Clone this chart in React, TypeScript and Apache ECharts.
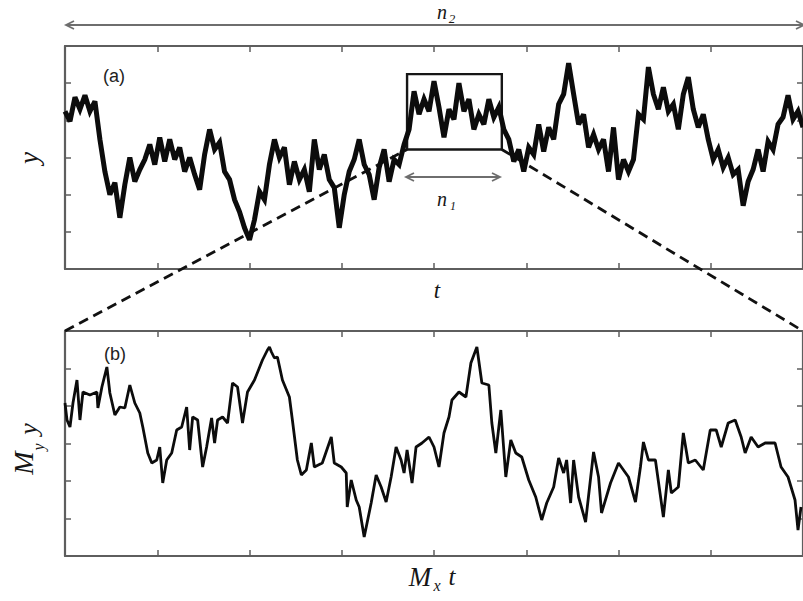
import { useEffect, useRef } from "react";
import * as echarts from "echarts";

// Panel (a): trace y(t), samples every X_STEP units of t (axis 0..740)
const X_STEP = 5;
const panelA = [
  157, 147, 171, 159, 173, 157, 167, 129, 97, 74,
  86, 51, 84, 111, 87, 99, 109, 124, 104, 131,
  107, 129, 109, 121, 97, 111, 94, 79, 114, 139,
  119, 126, 97, 89, 69, 57, 41, 29, 49, 77,
  69, 104, 129, 111, 121, 84, 107, 89, 99, 77,
  129, 99, 114, 89, 81, 41, 74, 97, 109, 129,
  104, 94, 69, 101, 119, 87, 109, 104, 124, 139,
  177, 154, 169, 157, 187, 161, 131, 159, 149, 185,
  157, 169, 139, 154, 144, 169, 151, 161, 139, 129,
  107, 119, 97, 121, 114, 144, 117, 141, 129, 164,
  174, 205, 174, 144, 154, 121, 134, 119, 129, 97,
  141, 89, 109, 97, 109, 154, 149, 201, 174, 159,
  181, 157, 164, 139, 174, 191, 159, 141, 154, 129,
  109, 119, 101, 111, 94, 99, 63, 87, 99, 119,
  97, 127, 119, 144, 151, 173, 149, 157, 141,
];

// Panel (b): rescaled segment M_x t, M_y y
const panelBT = [
  0, 2, 5, 8, 12, 15, 18, 25, 32, 33, 37, 42, 45, 50, 55, 60, 65, 70, 75, 78,
  83, 87, 92, 95, 98, 102, 107, 112, 117, 122, 125, 128, 133, 138, 142, 147, 150, 153, 158, 163,
  168, 173, 178, 183, 190, 198, 203, 205, 207, 210, 213, 218, 225, 228, 233, 237, 242, 247, 250, 258,
  267, 270, 277, 282, 283, 287, 292, 295, 300, 307, 312, 317, 322, 327, 332, 337, 340, 343, 348, 352,
  358, 365, 370, 375, 380, 385, 388, 395, 402, 407, 413, 418, 425, 428, 432, 437, 442, 447, 452, 458,
  465, 472, 478, 483, 490, 495, 500, 503, 507, 510, 515, 522, 530, 535, 538, 547, 555, 565, 572, 577,
  580, 585, 592, 600, 605, 608, 615, 620, 625, 632, 640, 647, 653, 658, 665, 672, 678, 682, 688, 695,
  702, 712, 718, 725, 732, 735, 738,
];
const panelBY = [
  153, 136, 129, 153, 176, 136, 164, 161, 164, 148, 169, 189, 163, 141, 149, 148, 171, 153, 143, 129,
  103, 93, 96, 109, 73, 96, 103, 126, 129, 149, 106, 139, 136, 89, 109, 138, 113, 136, 139, 133,
  173, 169, 133, 164, 176, 196, 206, 209, 204, 198, 199, 176, 159, 136, 96, 81, 86, 113, 89, 93,
  119, 93, 89, 83, 49, 76, 56, 49, 19, 53, 81, 69, 54, 79, 109, 96, 83, 106, 73, 109,
  113, 119, 109, 89, 123, 139, 156, 164, 159, 193, 209, 173, 171, 133, 103, 146, 79, 116, 103, 99,
  76, 59, 36, 53, 69, 98, 83, 96, 53, 96, 59, 34, 104, 79, 43, 73, 93, 79, 54, 89,
  114, 96, 96, 39, 86, 63, 69, 123, 93, 96, 86, 126, 126, 109, 133, 136, 119, 103, 119, 109,
  113, 113, 89, 79, 56, 26, 49,
];

// zoom window in panel (a) data coordinates
const boxT = [343, 438];
const boxY = [119, 194];

const X_MAX = 740;
const X_INT = 92.5;
const YA_MAX = 222;
const YA_INT = 37;
const YB_MAX = 225;
const YB_INT = 37.5;

const FRAME = "#5e5e5e";
const GRAY = "#6e6e6e";
const INK = "#161616";
const SERIF = "'Liberation Serif', 'DejaVu Serif', serif";
const SANS = "'Liberation Sans', Arial, sans-serif";

function axisX(gridIndex: number, position: string) {
  return {
    type: "value",
    gridIndex,
    position,
    min: 0,
    max: X_MAX,
    interval: X_INT,
    axisLine: { show: true, onZero: false, lineStyle: { color: FRAME, width: 2.2 } },
    axisTick: { show: true, inside: true, length: 6, lineStyle: { color: FRAME, width: 1.5 } },
    axisLabel: { show: false },
    splitLine: { show: false },
  };
}
function axisY(gridIndex: number, position: string, max: number, interval: number) {
  return {
    type: "value",
    gridIndex,
    position,
    min: 0,
    max,
    interval,
    axisLine: { show: true, onZero: false, lineStyle: { color: FRAME, width: 2.2 } },
    axisTick: { show: true, inside: true, length: 6, lineStyle: { color: FRAME, width: 1.5 } },
    axisLabel: { show: false },
    splitLine: { show: false },
  };
}

function italic(text: string, x: number, y: number, size: number, extra: any = {}) {
  return {
    type: "text",
    x,
    y,
    z: 10,
    style: {
      text,
      fontFamily: SERIF,
      fontStyle: "italic",
      fontSize: size,
      fill: INK,
      align: "center",
      verticalAlign: "middle",
    },
    ...extra,
  };
}

function arrow(x1: number, x2: number, y: number) {
  return [
    { type: "line", shape: { x1, y1: y, x2, y2: y }, style: { stroke: GRAY, lineWidth: 1.8 } },
    {
      type: "polyline",
      shape: { points: [[x1 + 8, y - 4], [x1, y], [x1 + 8, y + 4]] },
      style: { stroke: GRAY, fill: null, lineWidth: 1.8 },
    },
    {
      type: "polyline",
      shape: { points: [[x2 - 8, y - 4], [x2, y], [x2 - 8, y + 4]] },
      style: { stroke: GRAY, fill: null, lineWidth: 1.8 },
    },
  ];
}

export default function App() {
  const ref = useRef<HTMLDivElement>(null);
  useEffect(() => {
    if (!ref.current) return;
    const chart = echarts.init(ref.current, null, { renderer: "svg" });
    const dataA = panelA.map((v, i) => [i * X_STEP, v]);
    const dataB = panelBT.map((t, i) => [t, panelBY[i]]);
    chart.setOption({
      animation: false,
      backgroundColor: "#fff",
      grid: [
        { left: 65, top: 46, width: 740, height: 223 },
        { left: 65, top: 331, width: 740, height: 225 },
      ],
      xAxis: [axisX(0, "bottom"), axisX(0, "top"), axisX(1, "bottom"), axisX(1, "top")],
      yAxis: [
        axisY(0, "left", YA_MAX, YA_INT),
        axisY(0, "right", YA_MAX, YA_INT),
        axisY(1, "left", YB_MAX, YB_INT),
        axisY(1, "right", YB_MAX, YB_INT),
      ],
      series: [
        {
          type: "line",
          xAxisIndex: 0,
          yAxisIndex: 0,
          data: dataA,
          symbol: "none",
          z: 3,
          lineStyle: { color: "#0c0c0c", width: 5, join: "miter", miterLimit: 3 },
          markArea: {
            silent: true,
            itemStyle: { color: "rgba(0,0,0,0)", borderColor: INK, borderWidth: 2.4 },
            data: [[{ coord: [boxT[0], boxY[0]] }, { coord: [boxT[1], boxY[1]] }]],
          },
        },
        {
          type: "line",
          xAxisIndex: 2,
          yAxisIndex: 2,
          data: dataB,
          symbol: "none",
          z: 3,
          lineStyle: { color: "#0c0c0c", width: 2.8 },
        },
      ],
    });

    const pLL = chart.convertToPixel({ gridIndex: 0 }, [boxT[0], boxY[0]]) as number[];
    const pLR = chart.convertToPixel({ gridIndex: 0 }, [boxT[1], boxY[0]]) as number[];
    const pBL = chart.convertToPixel({ gridIndex: 1 }, [0, YB_MAX]) as number[];
    const pBR = chart.convertToPixel({ gridIndex: 1 }, [X_MAX, YB_MAX]) as number[];

    const dash = { stroke: "#111", lineWidth: 2.8, lineDash: [10, 6] };
    chart.setOption({
      graphic: [
        { type: "line", z: 1, shape: { x1: pBL[0], y1: pBL[1], x2: pLL[0], y2: pLL[1] }, style: dash },
        { type: "line", z: 1, shape: { x1: pLR[0], y1: pLR[1], x2: pBR[0], y2: pBR[1] }, style: dash },
        ...arrow(66, 804, 25),
        ...arrow(406, 500, 177),
        italic("n", 442, 12, 20),
        italic("2", 452, 18, 13),
        italic("n", 442, 199, 20),
        italic("1", 453, 206, 12),
        italic("t", 437, 290, 23),
        italic("M", 420, 577, 27),
        italic("x", 437, 585, 16),
        italic("t", 452, 576, 25),
        italic("y", 29, 158, 27, { rotation: Math.PI / 2 }),
        {
          type: "group",
          x: 23,
          y: 450,
          rotation: Math.PI / 2,
          children: [
            italic("M", -13, 0, 28),
            italic("y", 3, 15, 16),
            italic("y", 21, 5, 26),
          ],
        },
        {
          type: "text",
          x: 114,
          y: 76,
          z: 10,
          style: { text: "(a)", fontFamily: SANS, fontSize: 18, fill: "#222", align: "center", verticalAlign: "middle" },
        },
        {
          type: "text",
          x: 115,
          y: 354,
          z: 10,
          style: { text: "(b)", fontFamily: SANS, fontSize: 18, fill: "#222", align: "center", verticalAlign: "middle" },
        },
      ],
    });
    return () => chart.dispose();
  }, []);
  return (
    <div
      ref={ref}
      style={{ position: "absolute", left: 0, top: 0, width: 803, height: 601, background: "#fff" }}
    />
  );
}
